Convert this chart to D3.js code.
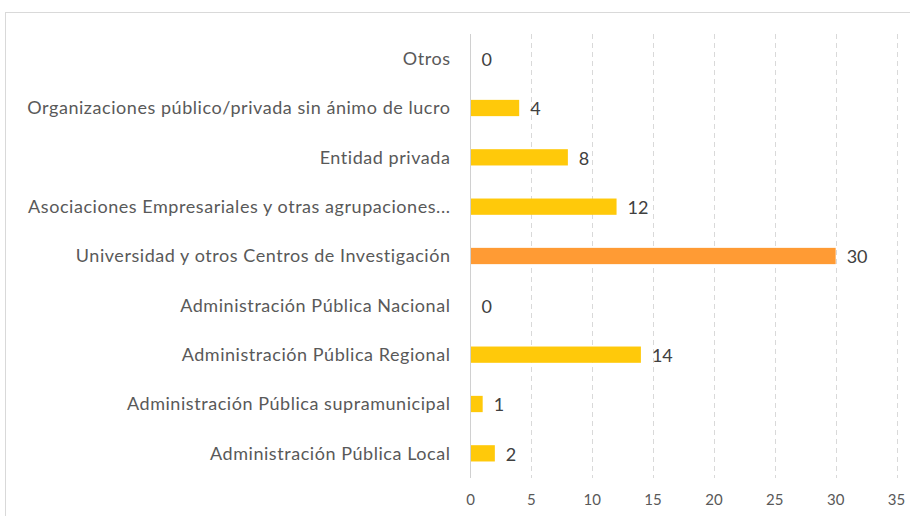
<!DOCTYPE html>
<html>
<head>
<meta charset="utf-8">
<script src="https://cdn.jsdelivr.net/npm/d3@7"></script>
<style>
  body { margin: 0; background: #fff; }
  svg text { font-family: Lato, "Open Sans", sans-serif; }
</style>
</head>
<body>
<svg id="chart" width="910" height="516"></svg>
<script>
// categories from top to bottom, as drawn
var categories = [
  "Otros",
  "Organizaciones público/privada sin ánimo de lucro",
  "Entidad privada",
  "Asociaciones Empresariales y otras agrupaciones...",
  "Universidad y otros Centros de Investigación",
  "Administración Pública Nacional",
  "Administración Pública Regional",
  "Administración Pública supramunicipal",
  "Administración Pública Local"
];
var values = [0, 4, 8, 12, 30, 0, 14, 1, 2];
var highlight = "Universidad y otros Centros de Investigación";
var xTicks = [0, 5, 10, 15, 20, 25, 30, 35];

var svg = d3.select("#chart");

// outer frame
svg.append("rect")
  .attr("x", 5.5).attr("y", 12.5)
  .attr("width", 1000).attr("height", 1000)
  .attr("fill", "none").attr("stroke", "#d9d9d9");

var plotL = 470.5, plotR = 896.5, plotT = 34, plotB = 478;

var x = d3.scaleLinear().domain([0, 35]).range([plotL, plotR]);
var y = d3.scaleBand().domain(categories).range([plotT, plotB]).paddingInner(0.67).paddingOuter(0.335);

// dashed grid
svg.selectAll("line.grid")
  .data(xTicks.filter(function(d){ return d > 0; }))
  .enter().append("line")
    .attr("class", "grid")
    .attr("x1", function(d){ return Math.round(x(d)) + 0.5; })
    .attr("x2", function(d){ return Math.round(x(d)) + 0.5; })
    .attr("y1", plotT).attr("y2", plotB)
    .attr("stroke", "#d9d9d9")
    .attr("stroke-dasharray", "5,4");

// bars
svg.selectAll("rect.bar")
  .data(categories)
  .enter().append("rect")
    .attr("class", "bar")
    .attr("x", x(0))
    .attr("y", function(d){ return y(d); })
    .attr("width", function(d, i){ return x(values[i]) - x(0); })
    .attr("height", y.bandwidth())
    .attr("fill", function(d){ return d == highlight ? "#ff9b34" : "#ffc90a"; });

// axis line
svg.append("line")
  .attr("x1", plotL).attr("x2", plotL)
  .attr("y1", plotT).attr("y2", plotB)
  .attr("stroke", "#d0d0d0");

// category labels
svg.selectAll("text.cat")
  .data(categories)
  .enter().append("text")
    .attr("class", "cat")
    .attr("x", plotL - 20)
    .attr("y", function(d){ return y(d) + y.bandwidth() / 2; })
    .attr("dy", "0.35em")
    .attr("text-anchor", "end")
    .style("font-size", "18px")
    .style("letter-spacing", "0.55px")
    .attr("fill", "#595959")
    .text(function(d){ return d; });

// value labels
svg.selectAll("text.val")
  .data(categories)
  .enter().append("text")
    .attr("class", "val")
    .attr("x", function(d, i){ return x(values[i]) + 11; })
    .attr("y", function(d){ return y(d) + y.bandwidth() / 2 + 1; })
    .attr("dy", "0.35em")
    .style("font-size", "18px")
    .attr("fill", "#404040")
    .text(function(d, i){ return values[i]; });

// x tick labels
svg.selectAll("text.tick")
  .data(xTicks)
  .enter().append("text")
    .attr("class", "tick")
    .attr("x", function(d){ return x(d); })
    .attr("y", 500)
    .attr("dy", "0.35em")
    .attr("text-anchor", "middle")
    .style("font-size", "15px")
    .attr("fill", "#595959")
    .text(function(d){ return d; });
</script>
</body>
</html>
